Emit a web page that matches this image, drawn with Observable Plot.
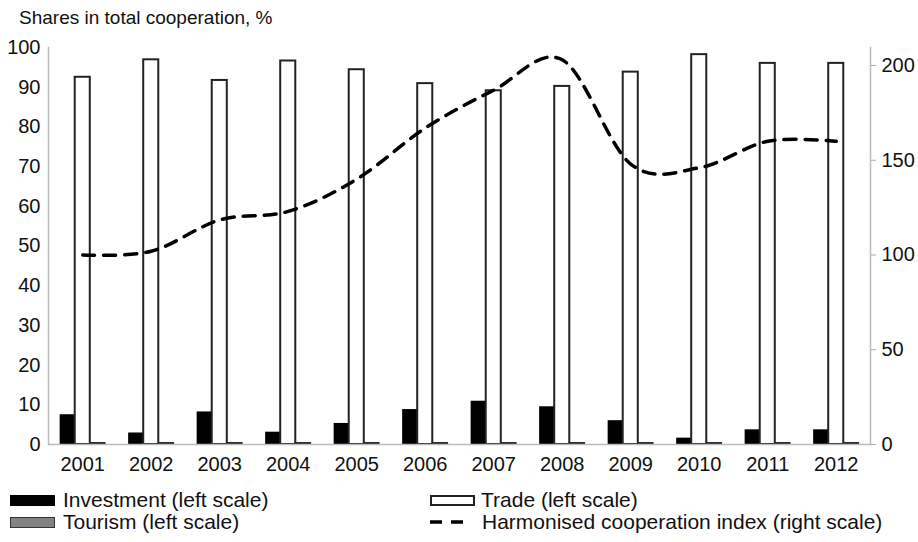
<!DOCTYPE html>
<html>
<head>
<meta charset="utf-8">
<script src="https://cdn.jsdelivr.net/npm/d3@7"></script>
<script src="https://cdn.jsdelivr.net/npm/@observablehq/plot@0.6"></script>
<style>
  html, body { margin: 0; padding: 0; background: #fff; }
  #wrap { position: relative; width: 918px; height: 542px; font-family: "Liberation Sans", Arial, sans-serif; color: #111; }
  #title { position: absolute; left: 19px; top: 7px; font-size: 19px; white-space: nowrap; }
  #chart { position: absolute; left: 0; top: 36px; }
  .leg { position: absolute; font-size: 21px; white-space: nowrap; display: flex; align-items: center; }
  .sw { display: inline-block; width: 45px; height: 11px; margin-right: 8px; box-sizing: border-box; }
</style>
</head>
<body>
<div id="wrap">
  <div id="title">Shares in total cooperation, %</div>
  <div id="chart"></div>
  <div class="leg" style="left:10px; top:488px;"><span class="sw" style="background:#000;"></span>Investment (left scale)</div>
  <div class="leg" style="left:10px; top:510px;"><span class="sw" style="border:1px solid #333; background-color:#aaa; background-image: radial-gradient(#555 0.6px, transparent 0.8px); background-size: 2px 2px;"></span>Tourism (left scale)</div>
  <div class="leg" style="left:430px; top:488px;"><span class="sw" style="border:2px solid #222; background:#fff; margin-right:6px;"></span>Trade (left scale)</div>
  <div class="leg" style="left:430px; top:510px;"><svg width="52" height="12" style="margin-right:0px;"><line x1="0" y1="6" x2="42" y2="6" stroke="#000" stroke-width="3.5" stroke-dasharray="12,9"></line></svg>Harmonised cooperation index (right scale)</div>
</div>
<script>
const years = [2001, 2002, 2003, 2004, 2005, 2006, 2007, 2008, 2009, 2010, 2011, 2012];
const investment = [7.5, 2.9, 8.2, 3.1, 5.3, 8.8, 10.9, 9.5, 6.0, 1.6, 3.7, 3.7];
const trade = [92.5, 96.9, 91.7, 96.6, 94.4, 90.9, 89.1, 90.2, 93.8, 98.2, 96.0, 96.0];
const tourism = [0.3, 0.3, 0.3, 0.3, 0.3, 0.3, 0.3, 0.3, 0.3, 0.3, 0.3, 0.3];
const index = [100, 102, 118.5, 123, 140, 167, 187, 203, 148, 146, 160, 160];
const leftTicks = [0, 10, 20, 30, 40, 50, 60, 70, 80, 90, 100];
const rightTicks = [0, 50, 100, 150, 200];
const rightMax = 209.5;
const k = 100 / rightMax;

const rows = (vals) => years.map((year, i) => ({year, value: vals[i]}));
const inv = rows(investment), trd = rows(trade), tou = rows(tourism), idx = rows(index);

const plot = Plot.plot({
  width: 918,
  height: 444,
  marginLeft: 48,
  marginRight: 48,
  marginTop: 11,
  marginBottom: 36,
  style: {fontFamily: "Liberation Sans, Arial, sans-serif", fontSize: "20px", color: "#111", background: "#fff"},
  x: {domain: [2000.5, 2012.5]},
  y: {domain: [0, 100]},
  marks: [
    Plot.rectY(inv, {x1: d => d.year - 0.33, x2: d => d.year - 0.11, y: "value", fill: "#000"}),
    Plot.rectY(trd, {x1: d => d.year - 0.11, x2: d => d.year + 0.11, y: "value", fill: "#fff", stroke: "#222", strokeWidth: 2}),
    Plot.rectY(tou, {x1: d => d.year + 0.11, x2: d => d.year + 0.33, y: "value", fill: "#999", stroke: "#222", strokeWidth: 1.5}),
    Plot.ruleY([0], {stroke: "#bbb", strokeWidth: 1.5}),
    Plot.frame({anchor: "left", stroke: "#bbb", strokeWidth: 1.5}),
    Plot.frame({anchor: "right", stroke: "#bbb", strokeWidth: 1.5}),
    Plot.axisX(years, {tickFormat: d3.format("d"), tickSize: 0, tickPadding: 12, label: null, fill: "#111"}),
    Plot.axisY(leftTicks, {anchor: "left", tickSize: 0, tickPadding: 8, label: null, fill: "#111"}),
    Plot.axisY(rightTicks.map(v => v * k), {anchor: "right", tickFormat: d => Math.round(d / k), tickSize: 5, tickPadding: 6, stroke: "#aaa", fill: "#111", label: null}),
    Plot.line(idx, {x: "year", y: d => d.value * k, curve: d3.curveCardinal, stroke: "#000", strokeWidth: 3.5, strokeDasharray: "12,9"})
  ]
});
document.getElementById("chart").appendChild(plot);
</script>
</body>
</html>
